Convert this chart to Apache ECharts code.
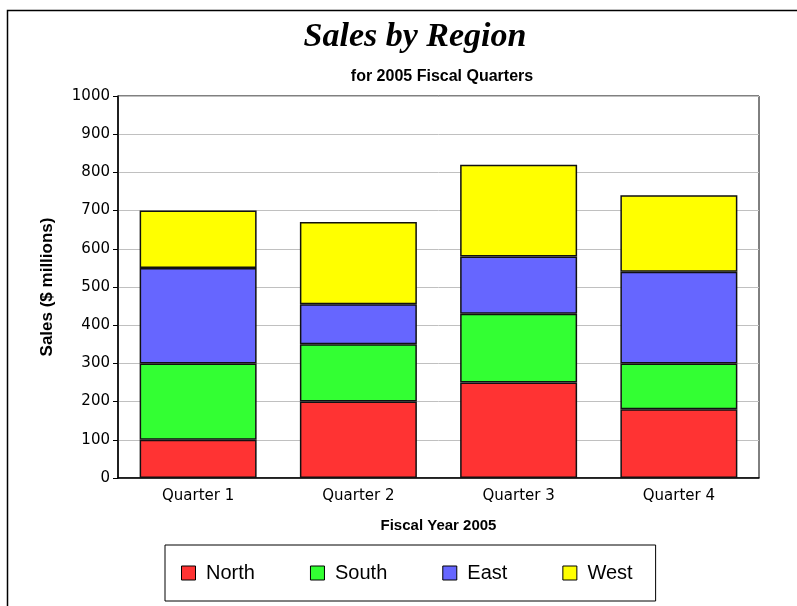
<!DOCTYPE html>
<html>
<head>
<meta charset="utf-8">
<script src="https://cdn.jsdelivr.net/npm/echarts@6/dist/echarts.min.js"></script>
<style>
html, body { margin: 0; padding: 0; background: #fff; }
#main { width: 797px; height: 606px; }
</style>
</head>
<body>
<div id="main"></div>
<script>
var quarters = ['Quarter 1', 'Quarter 2', 'Quarter 3', 'Quarter 4'];
var north = [100, 200, 250, 180];
var south = [200, 150, 180, 120];
var east = [250, 105, 150, 240];
var west = [150, 215, 240, 200];
var regions = ['North', 'South', 'East', 'West'];
var colors = ['#ff3333', '#33ff33', '#6666ff', '#ffff00'];

var myChart = echarts.init(document.getElementById('main'));

function makeSeries(name, data, color) {
	return {
		name: name,
		type: 'bar',
		stack: 'sales',
		data: data,
		barWidth: '73%',
		itemStyle: { color: color, borderColor: '#111', borderWidth: 1.5 }
	};
}

var option = {
	animation: false,
	backgroundColor: '#fff',
	graphic: [{
		type: 'rect',
		shape: { x: 7.5, y: 10.5, width: 800, height: 620 },
		style: { fill: 'none', stroke: '#000', lineWidth: 1.5 },
		silent: true
	}],
	title: [{
		text: 'Sales by Region',
		left: 410, top: 15, textAlign: 'center',
		textStyle: { fontFamily: 'Liberation Serif', fontStyle: 'italic', fontWeight: 'bold', fontSize: 34, color: '#000' }
	}, {
		text: 'for 2005 Fiscal Quarters',
		left: 437, top: 64, textAlign: 'center',
		textStyle: { fontFamily: 'Liberation Sans', fontWeight: 'bold', fontSize: 16, color: '#000' }
	}],
	legend: {
		data: regions,
		left: 165, top: 545,
		width: 520,
		padding: [18, 23, 18, 16],
		itemGap: 55,
		itemWidth: 14, itemHeight: 14,
		icon: 'rect',
		formatter: function (name) { return ' ' + name; },
		borderColor: '#000', borderWidth: 1,
		textStyle: { fontFamily: 'Liberation Sans', fontSize: 20, color: '#000' },
		itemStyle: { borderColor: '#000', borderWidth: 1 }
	},
	grid: {
		left: 118, right: 38, top: 96, bottom: 128,
		show: true, borderColor: '#000', borderWidth: 1
	},
	xAxis: {
		type: 'category',
		data: quarters,
		name: 'Fiscal Year 2005',
		nameLocation: 'middle',
		nameGap: 40,
		nameTextStyle: { fontFamily: 'Liberation Sans', fontWeight: 'bold', fontSize: 15, color: '#000' },
		axisLine: { lineStyle: { color: '#000', width: 1.5 } },
		axisTick: { alignWithLabel: true, length: 6, lineStyle: { color: '#000', width: 1.5 } },
		axisLabel: { fontFamily: 'DejaVu Sans', fontSize: 15, color: '#000', margin: 11 }
	},
	yAxis: {
		type: 'value',
		min: 0, max: 1000, interval: 100,
		name: 'Sales ($ millions)',
		nameLocation: 'middle',
		nameGap: 62,
		nameTextStyle: { fontFamily: 'Liberation Sans', fontWeight: 'bold', fontSize: 17, color: '#000' },
		axisLine: { show: true, lineStyle: { color: '#000', width: 1.5 } },
		axisTick: { show: true, length: 5, lineStyle: { color: '#000' } },
		axisLabel: { fontFamily: 'DejaVu Sans', fontSize: 15, color: '#000', margin: 8, formatter: function (v) { return String(v); } },
		splitLine: { lineStyle: { color: '#c0c0c0', width: 1 } }
	},
	series: [
		makeSeries('North', north, colors[0]),
		makeSeries('South', south, colors[1]),
		makeSeries('East', east, colors[2]),
		makeSeries('West', west, colors[3])
	]
};

myChart.setOption(option);
</script>
</body>
</html>
